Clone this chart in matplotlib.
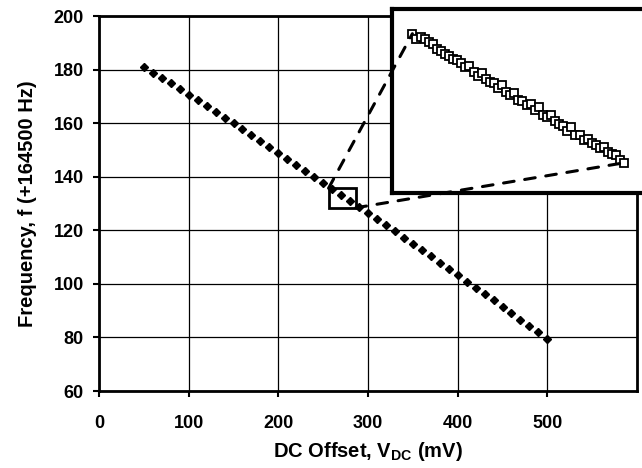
import matplotlib
matplotlib.use("Agg")
import matplotlib.pyplot as plt
from matplotlib.patches import Rectangle, ConnectionPatch

plt.rcParams['font.family'] = ['Liberation Sans', 'DejaVu Sans']
plt.rcParams['font.weight'] = 'bold'
plt.rcParams['mathtext.fontset'] = 'custom'
plt.rcParams['mathtext.rm'] = 'Liberation Sans:bold'
plt.rcParams['mathtext.bf'] = 'Liberation Sans:bold'
plt.rcParams['mathtext.it'] = 'Liberation Sans:bold'

# Main sweep: DC offset (mV) vs frequency (+164500 Hz)
vdc = [50, 60, 70, 80, 90, 100, 110, 120, 130, 140, 150, 160, 170, 180, 190,
       200, 210, 220, 230, 240, 250, 260, 270, 280, 290, 300, 310, 320, 330,
       340, 350, 360, 370, 380, 390, 400, 410, 420, 430, 440, 450, 460, 470,
       480, 490, 500]
freq = [181.0, 178.9, 176.8, 174.8, 172.7, 170.6, 168.5, 166.4, 164.3, 162.1,
        160.0, 157.8, 155.6, 153.4, 151.2, 149.0, 146.7, 144.4, 142.1, 139.8,
        137.5, 135.3, 133.1, 130.9, 128.7, 126.6, 124.3, 122.0, 119.7, 117.3,
        115.0, 112.6, 110.3, 107.9, 105.6, 103.2, 100.8, 98.5, 96.1, 93.8,
        91.4, 89.0, 86.6, 84.2, 81.9, 79.5]

# Zoomed (inset) fine sweep
vdc_fine = [258.5, 259.0, 259.5, 260.0, 260.5, 261.0, 261.5, 262.0, 262.5, 263.0,
            263.5, 264.0, 264.5, 265.0, 265.5, 266.0, 266.5, 267.0, 267.5, 268.0,
            268.5, 269.0, 269.5, 270.0, 270.5, 271.0, 271.5, 272.0, 272.5, 273.0,
            273.5, 274.0, 274.5, 275.0, 275.5, 276.0, 276.5, 277.0, 277.5, 278.0,
            278.5, 279.0, 279.5, 280.0, 280.5, 281.0, 281.5, 282.0, 282.5, 283.0,
            283.5, 284.0, 284.5]
freq_fine = [134.72, 134.52, 134.60, 134.50, 134.38, 134.30, 134.12, 134.05, 133.90, 133.85,
             133.70, 133.68, 133.55, 133.40, 133.45, 133.22, 133.05, 133.15, 132.92, 132.80,
             132.78, 132.55, 132.68, 132.42, 132.30, 132.35, 132.10, 132.05, 131.90, 131.95,
             131.68, 131.80, 131.50, 131.40, 131.48, 131.25, 131.15, 131.05, 130.85, 131.00,
             130.72, 130.70, 130.52, 130.55, 130.38, 130.30, 130.18, 130.22, 130.02, 129.95,
             129.90, 129.72, 129.60]

xticks = [0, 100, 200, 300, 400, 500]
yticks = [60, 80, 100, 120, 140, 160, 180, 200]
zoom_x = (256.0, 286.5)
zoom_y = (128.4, 135.7)

W, H = 642, 468
fig = plt.figure(figsize=(W / 100, H / 100), dpi=100)
ax = fig.add_axes([99 / W, 1 - 391 / H, (637 - 99) / W, (391 - 16) / H])

ax.plot(vdc, freq, linestyle='none', marker='D', markersize=4.0,
        color='black', zorder=3)
ax.set_xlim(0, 600)
ax.set_ylim(60, 200)
ax.set_xticks(xticks)
ax.set_yticks(yticks)
ax.grid(True, color='black', linewidth=0.9, zorder=0)
ax.set_axisbelow(True)
for s in ax.spines.values():
    s.set_linewidth(2.0)
ax.tick_params(direction='out', length=4, width=1.5, labelsize=13)
ax.tick_params(axis='x', pad=13)
ax.tick_params(axis='y', pad=7)
for lbl in ax.get_xticklabels() + ax.get_yticklabels():
    lbl.set_fontweight('bold')
ax.set_xlabel(r'DC Offset, $\mathrm{V}_{\mathrm{DC}}$ (mV)', fontsize=14.5,
              fontweight='bold', labelpad=6)
ax.set_ylabel('Frequency, f (+164500 Hz)', fontsize=14.5, fontweight='bold',
              labelpad=12)

rect = Rectangle((zoom_x[0], zoom_y[0]), zoom_x[1] - zoom_x[0],
                 zoom_y[1] - zoom_y[0], fill=False, edgecolor='black',
                 linewidth=2.0, zorder=4)
ax.add_patch(rect)

# Inset
axin = fig.add_axes([392 / W, 1 - 193 / H, (648 - 392) / W, (193 - 9) / H])
axin.set_zorder(5)
axin.set_facecolor('white')
axin.plot(vdc_fine, freq_fine, color='black', linewidth=2.0, marker='s',
          markersize=5.5, markerfacecolor='white', markeredgecolor='black',
          markeredgewidth=1.3)
axin.set_xlim(zoom_x[0], zoom_x[1] + 0.9)
axin.set_ylim(*zoom_y)
axin.set_xticks([])
axin.set_yticks([])
for s in axin.spines.values():
    s.set_linewidth(3.0)

for (xa, ya), (xb, yb) in [((zoom_x[0], zoom_y[1]), (vdc_fine[0], freq_fine[0])),
                           ((zoom_x[1], zoom_y[0]), (vdc_fine[-1], freq_fine[-1]))]:
    con = ConnectionPatch(xyA=(xa, ya), coordsA=ax.transData,
                          xyB=(xb, yb), coordsB=axin.transData,
                          color='black', linewidth=2.2, linestyle=(0, (3.5, 3.5)),
                          zorder=6)
    fig.add_artist(con)

fig.savefig('out.png', dpi=100)
